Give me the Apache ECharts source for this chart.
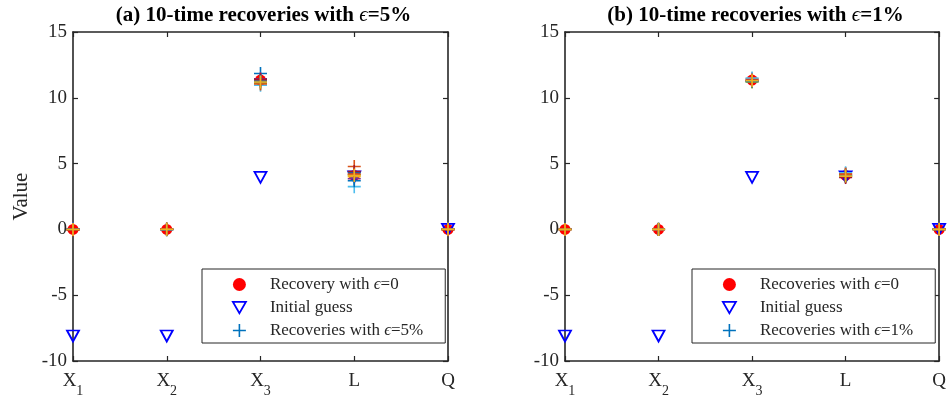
<!DOCTYPE html>
<html>
<head>
<meta charset="utf-8">
<script src="https://cdn.jsdelivr.net/npm/echarts@6/dist/echarts.min.js"></script>
<style>
  html, body { margin: 0; padding: 0; background: #fff; }
  #chart { width: 949px; height: 403px; }
</style>
</head>
<body>
<div id="chart"></div>
<script>
// Parameter labels along the horizontal axis
const categories = ['X1', 'X2', 'X3', 'L', 'Q'];
const categorySubscripts = ['1', '2', '3', '', ''];
const yTicks = [-10, -5, 0, 5, 10, 15];

// Noise-free recovery and the starting point of the solver
const exactRecovery = [0, 0, 11.35, 4.1, 0];
const initialGuess = [-8.1, -8.1, 3.95, 4.0, 0];

// Ten repeated recoveries with 5% noise (one array per run)
const noise5Runs = [
  [0.02, 0.01, 11.85, 4.30, 0.02],
  [-0.03, -0.02, 11.30, 4.78, 0.01],
  [0.00, 0.02, 11.20, 4.00, -0.02],
  [0.04, -0.01, 11.45, 3.85, 0.03],
  [-0.02, 0.03, 11.10, 4.15, -0.01],
  [0.01, 0.00, 10.95, 3.25, 0.02],
  [-0.04, 0.02, 11.40, 4.40, -0.03],
  [0.03, -0.03, 11.25, 3.70, 0.01],
  [0.00, 0.01, 11.05, 4.20, 0.00],
  [-0.01, 0.00, 11.20, 4.10, 0.01]
];

// Ten repeated recoveries with 1% noise
const noise1Runs = [
  [0.01, 0.00, 11.30, 4.10, 0.01],
  [-0.01, 0.01, 11.45, 4.25, 0.00],
  [0.00, -0.01, 11.25, 4.00, -0.01],
  [0.01, 0.00, 11.35, 4.15, 0.01],
  [0.00, 0.01, 11.20, 4.05, 0.00],
  [-0.01, 0.00, 11.50, 4.30, 0.01],
  [0.00, -0.01, 11.30, 3.95, -0.01],
  [0.01, 0.01, 11.25, 4.10, 0.00],
  [0.00, 0.00, 11.35, 4.20, 0.01],
  [0.00, 0.00, 11.30, 4.05, 0.00]
];

const panelTitles = [
  '(a) 10-time recoveries with {e|ϵ}=5%',
  '(b) 10-time recoveries with {e|ϵ}=1%'
];
const exactNames = ['Recovery with ϵ=0', 'Recoveries with ϵ=0'];
const guessName = 'Initial guess';
const runNames = ['Recoveries with ϵ=5%', 'Recoveries with ϵ=1%'];

const runColors = ['#0072BD', '#D95319', '#EDB120', '#7E2F8E', '#77AC30', '#4DBEEE', '#A2142F'];
const textColor = '#262626';
const serif = '"Liberation Serif", "Times New Roman", serif';

const triPath = 'path://M0,0L12,0L6,10.4Z';
const plusPath = 'path://M6,0L6,12M0,6L12,6';

const grids = [
  { left: 73, top: 32, width: 375, height: 329 },
  { left: 565, top: 32, width: 375, height: 329 }
];

const option = {
  backgroundColor: '#fff',
  animation: false,
  grid: grids.map(g => Object.assign({ containLabel: false }, g)),
  title: panelTitles.map((t, i) => ({
    text: t,
    left: grids[i].left + grids[i].width / 2 - 2,
    textAlign: 'center',
    top: 0,
    textStyle: {
      fontFamily: serif, fontSize: 21, fontWeight: 'bold', color: '#000',
      rich: { e: { fontFamily: serif, fontSize: 21, fontStyle: 'italic', fontWeight: 'normal', color: '#000' } }
    }
  })),
  xAxis: [],
  yAxis: [],
  legend: [],
  series: []
};

const axisLine = { show: true, onZero: false, lineStyle: { color: textColor, width: 1.6 } };
const tick = { show: true, inside: true, length: 5, lineStyle: { color: textColor, width: 1.2 } };

grids.forEach((g, gi) => {
  const xb = option.xAxis.length;
  option.xAxis.push({
    gridIndex: gi, type: 'category', data: categories, boundaryGap: false, position: 'bottom',
    axisLine, axisTick: Object.assign({ interval: 0 }, tick), splitLine: { show: false },
    axisLabel: {
      interval: 0, margin: 11,
      formatter: (v, idx) => '{m|' + v.charAt(0) + '}' + (categorySubscripts[idx] ? '{s|' + categorySubscripts[idx] + '}' : ''),
      rich: {
        m: { fontFamily: serif, fontSize: 19, color: textColor, lineHeight: 22, verticalAlign: 'top' },
        s: { fontFamily: serif, fontSize: 14, color: textColor, lineHeight: 14, verticalAlign: 'top', padding: [12, 0, 0, 0] }
      }
    }
  });
  option.xAxis.push({
    gridIndex: gi, type: 'category', data: categories, boundaryGap: false, position: 'top',
    axisLine, axisTick: Object.assign({ interval: 0 }, tick), axisLabel: { show: false }, splitLine: { show: false }
  });
  const yb = option.yAxis.length;
  const yCommon = {
    gridIndex: gi, type: 'value', min: yTicks[0], max: yTicks[yTicks.length - 1], interval: 5,
    axisLine, axisTick: tick, splitLine: { show: false }
  };
  option.yAxis.push(Object.assign({}, yCommon, {
    position: 'left',
    name: gi === 0 ? 'Value' : '',
    nameLocation: 'middle', nameGap: 41,
    nameTextStyle: { fontFamily: serif, fontSize: 21, color: textColor },
    axisLabel: { margin: 6, fontFamily: serif, fontSize: 19, color: textColor }
  }));
  option.yAxis.push(Object.assign({}, yCommon, { position: 'right', axisLabel: { show: false } }));

  const runs = gi === 0 ? noise5Runs : noise1Runs;

  option.series.push({
    name: exactNames[gi], type: 'scatter', xAxisIndex: xb, yAxisIndex: yb,
    data: exactRecovery, symbol: 'circle', symbolSize: 11,
    itemStyle: { color: '#FF0000', opacity: 1 }, z: 2
  });
  option.series.push({
    name: guessName, type: 'scatter', xAxisIndex: xb, yAxisIndex: yb,
    data: initialGuess, symbol: triPath, symbolSize: [12, 11],
    itemStyle: { color: 'rgba(0,0,0,0)', borderColor: '#0000FF', borderWidth: 1.8, opacity: 1 }, z: 3
  });
  runs.forEach((run, ri) => {
    option.series.push({
      name: ri === 0 ? runNames[gi] : 'run-' + gi + '-' + ri,
      type: 'scatter', xAxisIndex: xb, yAxisIndex: yb,
      data: run, symbol: plusPath, symbolSize: 13,
      itemStyle: { color: 'rgba(0,0,0,0)', borderColor: runColors[ri % runColors.length], borderWidth: 1.6, opacity: 1 },
      z: 4 + ri
    });
  });

  option.legend.push({
    orient: 'vertical',
    left: gi === 0 ? 202 : 692, top: 269,
    padding: [7, 22, 4, 30],
    itemGap: 6, itemWidth: 13, itemHeight: 13,
    backgroundColor: '#fff', borderColor: textColor, borderWidth: 1, borderRadius: 0,
    selectedMode: false,
    data: [
      { name: exactNames[gi], icon: 'circle', itemStyle: { color: '#FF0000', borderWidth: 0, opacity: 1 } },
      { name: guessName, icon: triPath, itemStyle: { color: 'rgba(0,0,0,0)', borderColor: '#0000FF', borderWidth: 1.8, opacity: 1 } },
      { name: runNames[gi], icon: plusPath, itemStyle: { color: 'rgba(0,0,0,0)', borderColor: '#0072BD', borderWidth: 1.6, opacity: 1 } }
    ],
    formatter: name => name.replace('ϵ', '{e|ϵ}'),
    textStyle: {
      fontFamily: serif, fontSize: 17, color: textColor, lineHeight: 14, padding: [0, 0, 0, 19],
      rich: { e: { fontFamily: serif, fontSize: 17, fontStyle: 'italic', color: textColor, lineHeight: 14 } }
    }
  });
});

const chart = echarts.init(document.getElementById('chart'), null, { renderer: 'canvas' });
chart.setOption(option);
</script>
</body>
</html>
